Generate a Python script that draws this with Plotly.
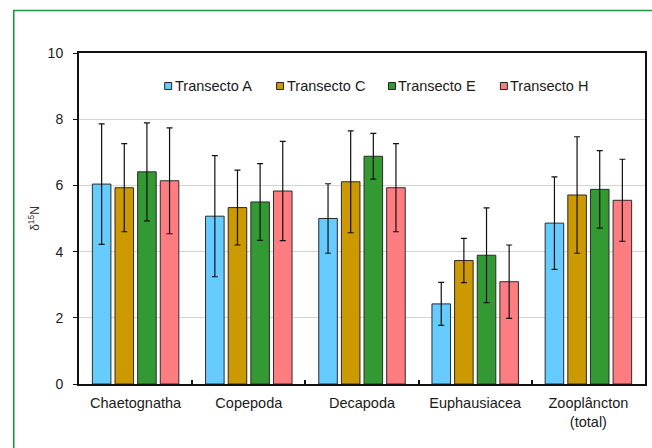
import plotly.graph_objects as go

# Categories and series
categories = ["Chaetognatha", "Copepoda", "Decapoda", "Euphausiacea", "Zooplâncton<br>(total)"]
series_names = ["Transecto A", "Transecto C", "Transecto E", "Transecto H"]
colors = ["#66CCFF", "#CC9900", "#339933", "#FF7C80"]

# Mean δ15N per transect
mean_a = [6.04, 5.07, 5.00, 2.42, 4.86]
mean_c = [5.93, 5.33, 6.11, 3.73, 5.71]
mean_e = [6.41, 5.50, 6.88, 3.89, 5.88]
mean_h = [6.14, 5.83, 5.93, 3.09, 5.55]

# Standard deviations
sd_a = [1.82, 1.83, 1.05, 0.65, 1.40]
sd_c = [1.33, 1.13, 1.54, 0.67, 1.76]
sd_e = [1.48, 1.16, 0.69, 1.43, 1.17]
sd_h = [1.60, 1.50, 1.33, 1.11, 1.24]

means = [mean_a, mean_c, mean_e, mean_h]
sds = [sd_a, sd_c, sd_e, sd_h]

FONT = "Liberation Sans, Arial, sans-serif"

fig = go.Figure()
for name, col, m, s in zip(series_names, colors, means, sds):
    fig.add_trace(go.Bar(
        x=categories, y=m, name=name,
        marker=dict(color=col, line=dict(color="#2b2b2b", width=1)),
        error_y=dict(type="data", array=s, visible=True,
                     color="#111111", thickness=1.2, width=3),
        showlegend=False,
    ))

# Plot-area geometry in pixels (for the hand-placed legend and outer frame)
W, H = 652, 448
L, R, T, B = 79, 5, 53, 64
pw, ph = W - L - R, H - T - B

def px_x(p):
    return (p - L) / pw

def px_y(p):
    return (H - B - p) / ph

shapes = []
annotations = []

# Legend: small outlined squares followed by the series names
leg_x0, leg_step, leg_y, sq = 165, 112.3, 86, 7
for i, (name, col) in enumerate(zip(series_names, colors)):
    x0 = leg_x0 + i * leg_step
    shapes.append(dict(type="rect", xref="paper", yref="paper",
                       x0=px_x(x0), x1=px_x(x0 + sq),
                       y0=px_y(leg_y + sq / 2), y1=px_y(leg_y - sq / 2),
                       fillcolor=col, line=dict(color="#222222", width=1)))
    annotations.append(dict(xref="paper", yref="paper",
                            x=px_x(x0 + sq + 1), y=px_y(leg_y),
                            xanchor="left", yanchor="middle", showarrow=False,
                            text=name, font=dict(family=FONT, size=14.5, color="#1a1a1a")))

# Outer green frame around the chart
shapes.append(dict(type="rect", xref="paper", yref="paper",
                   x0=px_x(13.5), x1=px_x(W + 20),
                   y0=px_y(H + 20), y1=px_y(10.5),
                   line=dict(color="#1E9447", width=1.6), fillcolor="rgba(0,0,0,0)",
                   layer="below"))

fig.update_layout(
    width=W, height=H,
    margin=dict(l=L, r=R, t=T, b=B),
    paper_bgcolor="white", plot_bgcolor="white",
    barmode="group", bargap=0.2, bargroupgap=0.18,
    font=dict(family=FONT, size=14, color="#1a1a1a"),
    shapes=shapes, annotations=annotations,
    xaxis=dict(
        showline=True, linecolor="#111111", linewidth=1.6, mirror=True,
        ticks="inside", tickson="boundaries", ticklen=4, tickwidth=1.5, tickcolor="#111111",
        tickfont=dict(size=14.5), showgrid=False, ticklabelstandoff=5,
    ),
    yaxis=dict(
        range=[0, 10], dtick=2, tick0=0,
        showline=True, linecolor="#111111", linewidth=2, mirror=True,
        ticks="outside", ticklen=4, tickwidth=1, tickcolor="#111111",
        showgrid=True, gridcolor="#D4D4D4", gridwidth=1,
        zeroline=False, tickfont=dict(size=14), ticklabelstandoff=7,
        title=dict(text="δ<sup>15</sup>N", font=dict(size=12, color="#333333"), standoff=5),
    ),
)

fig.write_html("out.html")
